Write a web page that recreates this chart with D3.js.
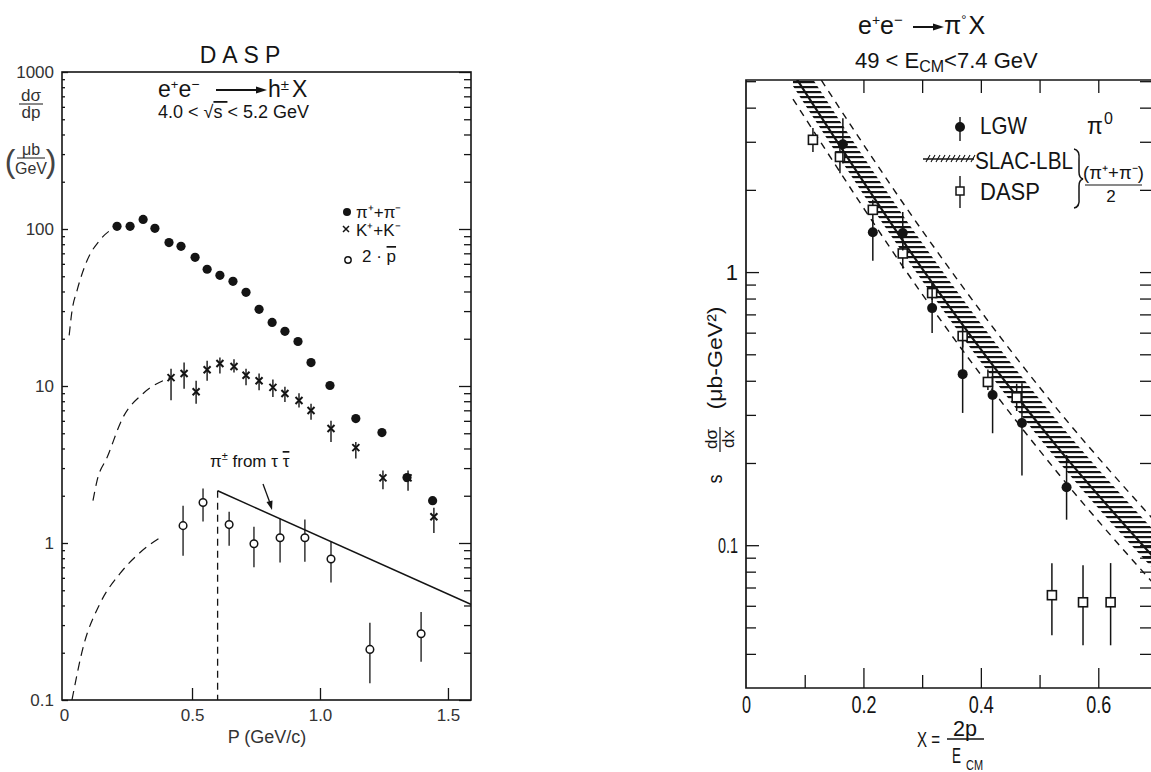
<!DOCTYPE html>
<html><head><meta charset="utf-8">
<script src="https://cdn.jsdelivr.net/npm/d3@7"></script>
<style>body{margin:0;background:#fff}svg{display:block}</style>
</head><body>
<svg id="c" width="1151" height="772"></svg>
<script>
// ---------------- Left panel data (DASP, e+e- -> h± X) ----------------
const pionP = [0.207,0.258,0.309,0.355,0.41,0.457,0.512,0.559,0.609,0.66,0.711,0.762,0.813,0.863,0.914,0.965,1.039,1.14,1.242,1.34,1.44];
const pionV = [104,104,115,101,82,77.6,66,55.4,50.7,46.4,39.5,30.8,25.4,22.3,19.2,14.1,10.07,6.2,5.05,2.61,1.86];

const kaonP  = [0.418,0.469,0.516,0.559,0.609,0.664,0.711,0.762,0.816,0.863,0.918,0.965,1.043,1.14,1.246,1.344,1.445];
const kaonV  = [11.3,12.0,9.2,12.7,13.9,13.3,11.7,10.8,9.8,8.96,8.08,6.98,5.36,4.05,2.6,2.6,1.47];
const kaonLo = [8.1,9.6,7.7,10.8,12.0,12.2,10.1,9.4,8.5,7.9,7.3,6.1,4.4,3.45,2.2,2.15,1.16];
const kaonHi = [12.9,14.1,10.8,14.5,15.2,14.8,12.9,12.0,11.0,9.9,9.0,7.7,6.0,4.4,2.9,2.9,1.68];

const protP  = [0.465,0.543,0.645,0.742,0.844,0.941,1.043,1.195,1.395];
const protV  = [1.29,1.81,1.31,0.99,1.08,1.08,0.79,0.21,0.264];
const protLo = [0.83,1.37,0.96,0.70,0.75,0.76,0.56,0.128,0.175];
const protHi = [1.73,2.22,1.58,1.27,1.43,1.41,1.02,0.31,0.364];

const pionCurveP = [0.02,0.031,0.051,0.09,0.14,0.2];
const pionCurveV = [21,30,40.7,63,85,103];
const kaonCurveP = [0.113,0.129,0.168,0.23,0.309,0.414];
const kaonCurveV = [1.86,2.5,3.5,6.3,8.96,11.3];
const protCurveP = [0.031,0.074,0.14,0.219,0.297,0.387];
const protCurveV = [0.1,0.215,0.41,0.64,0.87,1.11];

const tauP = [0.6,1.6];
const tauV = [2.15,0.40];

const leftXTicks = [0,0.5,1.0,1.5];
const leftYTicks = [0.1,1,10,100,1000];

// ---------------- Right panel data (e+e- -> pi0 X) ----------------
const lgwX  = [0.165,0.216,0.267,0.317,0.369,0.42,0.47,0.546];
const lgwV  = [2.94,1.40,1.39,0.738,0.423,0.355,0.28,0.163];
const lgwLo = [2.5,1.1,1.2,0.598,0.305,0.257,0.18,0.124];
const lgwHi = [3.66,1.55,1.66,0.91,0.63,0.445,0.392,0.214];

const daspX  = [0.114,0.16,0.216,0.267,0.317,0.369,0.412,0.461,0.521,0.574,0.621];
const daspV  = [3.05,2.64,1.69,1.17,0.838,0.583,0.396,0.348,0.0656,0.0618,0.0618];
const daspLo = [2.75,2.3,1.52,1.03,0.79,0.53,0.37,0.31,0.0468,0.043,0.043];
const daspHi = [3.37,2.9,1.84,1.29,0.91,0.63,0.44,0.39,0.0859,0.0845,0.086];

const bandX      = [0.08,0.30,0.53,0.70];
const bandCenter = [5.35,1.03,0.229,0.0875];
const bandLo     = [4.8,0.93,0.205,0.079];
const bandHi     = [6.6,1.28,0.285,0.11];
const dashLo     = [4.3,0.83,0.185,0.070];
const dashHi     = [7.3,1.42,0.315,0.12];

const rightXTicks = [0,0.2,0.4,0.6];
const rightYTicks = [0.1,1];

// ---------------- Drawing ----------------
const INK = "#141414";
const SANS = "'Liberation Sans', Arial, sans-serif";
const NARROW = "'Liberation Sans', Arial, sans-serif";
const svg = d3.select("#c");
const defs = svg.append("defs");

const hatch = defs.append("pattern").attr("id","hatch").attr("patternUnits","userSpaceOnUse")
  .attr("width",8).attr("height",5);
hatch.append("rect").attr("x",0).attr("y",1).attr("width",8).attr("height",2.2).attr("fill",INK);

const xL = d3.scaleLinear().domain([-0.008,1.59]).range([62,471]);
const yL = d3.scaleLog().domain([0.1,1000]).range([700,72]);
const xR = d3.scaleLinear().domain([0,0.7]).range([746,1157]);
const yR = d3.scaleLog().domain([0.03,5.05]).range([688,80]);

defs.append("clipPath").attr("id","clipL").append("rect")
  .attr("x",xL.range()[0]).attr("y",yL.range()[1]).attr("width",xL.range()[1]-xL.range()[0]).attr("height",yL.range()[0]-yL.range()[1]);
defs.append("clipPath").attr("id","clipR").append("rect")
  .attr("x",xR.range()[0]).attr("y",yR.range()[1]).attr("width",xR.range()[1]-xR.range()[0]).attr("height",yR.range()[0]-yR.range()[1]);

function minorLog(lo, hi){
  const out=[];
  for(let e=Math.floor(Math.log10(lo)); e<=Math.ceil(Math.log10(hi)); e++){
    for(let m=2;m<=9;m++){ const v=m*Math.pow(10,e); if(v>lo && v<hi) out.push(v); }
  }
  return out;
}
function styleAxis(g, fontSize, family){
  g.select(".domain").remove();
  g.selectAll(".tick line").attr("stroke",INK).attr("stroke-width",1.3);
  g.selectAll(".tick text").attr("fill",INK).attr("font-size",fontSize).attr("font-family",family);
}
function squeeze(sel, len){ return sel.attr("textLength",len).attr("lengthAdjust","spacingAndGlyphs"); }

// ===== LEFT PANEL =====
const L = svg.append("g");
L.append("g").attr("transform",`translate(${xL.range()[0]},0)`)
  .call(d3.axisLeft(yL).tickValues(leftYTicks).tickSize(-6).tickPadding(8)
    .tickFormat(d=> d===0.1 ? "0.1" : d3.format("d")(d)))
  .call(g=>styleAxis(g,17,SANS))
  .call(g=>g.selectAll(".tick text").attr("font-weight",300).attr("fill","#333"));
L.append("g").attr("transform",`translate(${xL.range()[0]},0)`)
  .call(d3.axisLeft(yL).tickValues(minorLog(0.1,1000)).tickSize(-3).tickFormat(""))
  .call(g=>styleAxis(g,0,SANS));
L.append("g").attr("transform",`translate(${xL.range()[1]},0)`)
  .call(d3.axisRight(yL).tickValues(leftYTicks).tickSize(-12).tickFormat(""))
  .call(g=>styleAxis(g,0,SANS));
L.append("g").attr("transform",`translate(${xL.range()[1]},0)`)
  .call(d3.axisRight(yL).tickValues(minorLog(0.1,1000)).tickSize(-7).tickFormat(""))
  .call(g=>styleAxis(g,0,SANS));
L.append("g").attr("transform",`translate(0,${yL.range()[0]})`)
  .call(d3.axisBottom(xL).tickValues(leftXTicks).tickSize(-12).tickPadding(9)
    .tickFormat(d=> d===0 ? "0" : d3.format(".1f")(d)))
  .call(g=>styleAxis(g,17,SANS))
  .call(g=>g.selectAll(".tick text").attr("fill","#333"))
  .call(g=>g.selectAll(".tick line").filter(d=>d===0).remove());
L.append("rect").attr("x",xL.range()[0]).attr("y",yL.range()[1])
  .attr("width",xL.range()[1]-xL.range()[0]).attr("height",yL.range()[0]-yL.range()[1])
  .attr("fill","none").attr("stroke",INK).attr("stroke-width",1.6);

const LP = L.append("g").attr("clip-path","url(#clipL)");
const lineL = d3.line().x(d=>xL(d[0])).y(d=>yL(d[1])).curve(d3.curveMonotoneX);
[[pionCurveP,pionCurveV],[kaonCurveP,kaonCurveV],[protCurveP,protCurveV]].forEach(([p,v])=>{
  LP.append("path").attr("d",lineL(p.map((x,i)=>[x,v[i]])))
    .attr("fill","none").attr("stroke",INK).attr("stroke-width",1.2).attr("stroke-dasharray","9,6");
});
LP.append("path").attr("d",d3.line().x(d=>xL(d[0])).y(d=>yL(d[1]))(tauP.map((x,i)=>[x,tauV[i]])))
  .attr("fill","none").attr("stroke",INK).attr("stroke-width",1.5);
LP.append("line").attr("x1",xL(tauP[0])).attr("x2",xL(tauP[0]))
  .attr("y1",yL(tauV[0])).attr("y2",yL(0.1))
  .attr("stroke",INK).attr("stroke-width",1.3).attr("stroke-dasharray","7,5");

kaonP.forEach((p,i)=>{
  const cx=xL(p), cy=yL(kaonV[i]);
  LP.append("line").attr("x1",cx).attr("x2",cx).attr("y1",yL(kaonHi[i])).attr("y2",yL(kaonLo[i]))
    .attr("stroke",INK).attr("stroke-width",1.4);
  LP.append("path").attr("d",`M${cx-3.5},${cy-3.5}L${cx+3.5},${cy+3.5}M${cx-3.5},${cy+3.5}L${cx+3.5},${cy-3.5}`)
    .attr("stroke",INK).attr("stroke-width",2);
});
LP.selectAll("circle.pi").data(pionP).enter().append("circle")
  .attr("cx",d=>xL(d)).attr("cy",(d,i)=>yL(pionV[i])).attr("r",4.6).attr("fill",INK);
protP.forEach((p,i)=>{
  const cx=xL(p);
  LP.append("line").attr("x1",cx).attr("x2",cx).attr("y1",yL(protHi[i])).attr("y2",yL(protLo[i]))
    .attr("stroke",INK).attr("stroke-width",1.3);
  LP.append("circle").attr("cx",cx).attr("cy",yL(protV[i])).attr("r",3.8)
    .attr("fill","#fff").attr("stroke",INK).attr("stroke-width",1.5);
});

// titles & labels (left)
L.append("text").attr("x",243).attr("y",63).attr("text-anchor","middle")
  .attr("font-family",SANS).attr("font-size",23).attr("letter-spacing",6).attr("fill",INK).text("DASP");
const t1 = L.append("text").attr("x",158).attr("y",97).attr("font-family",SANS).attr("font-size",23).attr("fill",INK);
t1.append("tspan").text("e");
t1.append("tspan").attr("font-size",13).attr("dy",-8).text("+");
t1.append("tspan").attr("dy",8).text("e");
t1.append("tspan").attr("font-size",14).attr("dy",-8).text("−");
L.append("line").attr("x1",216).attr("x2",258).attr("y1",90).attr("y2",90).attr("stroke",INK).attr("stroke-width",2);
L.append("path").attr("d","M256,86.5L267,90L256,93.5Z").attr("fill",INK);
const t2 = L.append("text").attr("x",268).attr("y",97).attr("font-family",SANS).attr("font-size",23).attr("fill",INK);
t2.append("tspan").text("h");
t2.append("tspan").attr("font-size",15).attr("dy",-7).text("±");
t2.append("tspan").attr("dy",7).attr("dx",3).text("X");
const t3 = L.append("text").attr("x",158).attr("y",118).attr("font-family",SANS).attr("font-size",18).attr("fill",INK);
t3.append("tspan").text("4.0 < ");
t3.append("tspan").text("√");
t3.append("tspan").attr("text-decoration","overline").text("s ");
t3.append("tspan").text(" < 5.2 GeV");

// y label left
L.append("text").attr("x",31).attr("y",101).attr("text-anchor","middle").attr("font-family",SANS).attr("font-size",17).attr("fill","#333").text("dσ");
L.append("line").attr("x1",19).attr("x2",43).attr("y1",104).attr("y2",104).attr("stroke",INK).attr("stroke-width",1);
L.append("text").attr("x",31).attr("y",118).attr("text-anchor","middle").attr("font-family",SANS).attr("font-size",17).attr("fill","#333").text("dp");
L.append("text").attr("x",31).attr("y",155).attr("text-anchor","middle").attr("font-family",SANS).attr("font-size",16).attr("fill","#333").text("μb");
L.append("line").attr("x1",17).attr("x2",45).attr("y1",158).attr("y2",158).attr("stroke",INK).attr("stroke-width",1);
L.append("text").attr("x",31).attr("y",174).attr("text-anchor","middle").attr("font-family",SANS).attr("font-size",16).attr("fill","#333").text("GeV");
L.append("text").attr("x",10).attr("y",172).attr("text-anchor","middle").attr("font-family",SANS).attr("font-size",32).attr("fill","#444").text("(");
L.append("text").attr("x",51).attr("y",172).attr("text-anchor","middle").attr("font-family",SANS).attr("font-size",32).attr("fill","#444").text(")");

L.append("text").attr("x",267).attr("y",743).attr("text-anchor","middle").attr("font-family",SANS).attr("font-size",18).attr("fill","#333").text("P (GeV/c)");

// legend left
L.append("circle").attr("cx",347).attr("cy",212).attr("r",4).attr("fill",INK);
L.append("text").attr("x",356).attr("y",218).attr("font-family",SANS).attr("font-size",17).attr("fill",INK).text("π⁺+π⁻");
L.append("path").attr("d","M343,226L349,232M343,232L349,226").attr("stroke",INK).attr("stroke-width",1.5);
L.append("text").attr("x",356).attr("y",236).attr("font-family",SANS).attr("font-size",17).attr("fill",INK).text("K⁺+K⁻");
L.append("circle").attr("cx",348).attr("cy",260).attr("r",3.2).attr("fill","#fff").attr("stroke",INK).attr("stroke-width",1.4);
const lp = L.append("text").attr("x",362).attr("y",262).attr("font-family",SANS).attr("font-size",17).attr("fill",INK);
lp.append("tspan").text("2 · ");
lp.append("tspan").attr("text-decoration","overline").text("p");

const tl = L.append("text").attr("x",210).attr("y",467).attr("font-family",SANS).attr("font-size",17).attr("fill",INK);
tl.append("tspan").text("π");
tl.append("tspan").attr("font-size",11).attr("dy",-7).text("±");
tl.append("tspan").attr("dy",7).text(" from τ ");
tl.append("tspan").attr("text-decoration","overline").text("τ");
L.append("line").attr("x1",263).attr("x2",270).attr("y1",484).attr("y2",503).attr("stroke",INK).attr("stroke-width",1.3);
L.append("path").attr("d","M266.5,502L272,510L272.5,500.5Z").attr("fill",INK);

// ===== RIGHT PANEL =====
const R = svg.append("g");
R.append("g").attr("transform",`translate(${xR.range()[0]},0)`)
  .call(d3.axisLeft(yR).tickValues(rightYTicks).tickSize(-13).tickPadding(8)
    .tickFormat(d=> d===1 ? "1" : "0.1"))
  .call(g=>styleAxis(g,22,NARROW))
  .call(g=>g.selectAll(".tick text").each(function(d){ if(d!==1) squeeze(d3.select(this),20); }));
R.append("g").attr("transform",`translate(${xR.range()[0]},0)`)
  .call(d3.axisLeft(yR).tickValues(minorLog(0.03,5.05)).tickSize(-10).tickFormat(""))
  .call(g=>styleAxis(g,0,NARROW));
R.append("g").attr("transform",`translate(1151,0)`)
  .call(d3.axisRight(yR).tickValues(rightYTicks.concat(minorLog(0.03,5.05))).tickSize(-11).tickFormat(""))
  .call(g=>styleAxis(g,0,NARROW));
R.append("g").attr("transform",`translate(0,${yR.range()[0]})`)
  .call(d3.axisBottom(xR).tickValues(rightXTicks).tickSize(0).tickPadding(8)
    .tickFormat(d=> d===0 ? "0" : d3.format(".1f")(d)))
  .call(g=>styleAxis(g,24,NARROW))
  .call(g=>g.selectAll(".tick text").each(function(d){ squeeze(d3.select(this), d===0 ? 9 : 25); }));
R.append("g").attr("transform",`translate(0,${yR.range()[0]})`)
  .call(d3.axisBottom(xR).tickValues([0.2,0.4,0.6]).tickSize(-20).tickFormat(""))
  .call(g=>styleAxis(g,0,NARROW));
R.append("g").attr("transform",`translate(0,${yR.range()[0]})`)
  .call(d3.axisBottom(xR).tickValues([0.1,0.3,0.5]).tickSize(-13).tickFormat(""))
  .call(g=>styleAxis(g,0,NARROW));
R.append("g").attr("transform",`translate(0,${yR.range()[1]})`)
  .call(d3.axisTop(xR).tickValues([0.2,0.3,0.4,0.5,0.6]).tickSize(-13).tickFormat(""))
  .call(g=>styleAxis(g,0,NARROW));
R.append("path").attr("d",`M1151,${yR.range()[1]}H${xR.range()[0]}V${yR.range()[0]}H1151`)
  .attr("fill","none").attr("stroke",INK).attr("stroke-width",1.7);

const RP = R.append("g").attr("clip-path","url(#clipR)");
const area = d3.area().x((d,i)=>xR(bandX[i])).y0((d,i)=>yR(bandLo[i])).y1((d,i)=>yR(bandHi[i])).curve(d3.curveMonotoneX);
RP.append("path").attr("d",area(bandX)).attr("fill","url(#hatch)");
const lineR = d3.line().x(d=>xR(d[0])).y(d=>yR(d[1])).curve(d3.curveMonotoneX);
RP.append("path").attr("d",lineR(bandX.map((x,i)=>[x,bandCenter[i]])))
  .attr("fill","none").attr("stroke",INK).attr("stroke-width",2.2);
[dashLo,dashHi].forEach(arr=>{
  RP.append("path").attr("d",lineR(bandX.map((x,i)=>[x,arr[i]])))
    .attr("fill","none").attr("stroke",INK).attr("stroke-width",1.4).attr("stroke-dasharray","7,6");
});
daspX.forEach((x,i)=>{
  const cx=xR(x), cy=yR(daspV[i]);
  RP.append("line").attr("x1",cx).attr("x2",cx).attr("y1",yR(daspHi[i])).attr("y2",yR(daspLo[i]))
    .attr("stroke",INK).attr("stroke-width",1.5);
  RP.append("rect").attr("x",cx-4.5).attr("y",cy-4.5).attr("width",9).attr("height",9)
    .attr("fill","#fff").attr("stroke",INK).attr("stroke-width",1.6);
});
lgwX.forEach((x,i)=>{
  const cx=xR(x);
  RP.append("line").attr("x1",cx).attr("x2",cx).attr("y1",yR(lgwHi[i])).attr("y2",yR(lgwLo[i]))
    .attr("stroke",INK).attr("stroke-width",1.5);
  RP.append("circle").attr("cx",cx).attr("cy",yR(lgwV[i])).attr("r",5).attr("fill",INK);
});

// right titles
const r1 = R.append("text").attr("x",858).attr("y",34).attr("font-family",SANS).attr("font-size",25).attr("fill",INK);
r1.append("tspan").text("e");
r1.append("tspan").attr("font-size",14).attr("dy",-9).text("+");
r1.append("tspan").attr("dy",9).text("e");
r1.append("tspan").attr("font-size",15).attr("dy",-9).text("−");
R.append("line").attr("x1",913).attr("x2",935).attr("y1",27).attr("y2",27).attr("stroke",INK).attr("stroke-width",2);
R.append("path").attr("d","M933,23.5L944,27L933,30.5Z").attr("fill",INK);
const r2 = R.append("text").attr("x",944).attr("y",34).attr("font-family",SANS).attr("font-size",25).attr("fill",INK);
r2.append("tspan").text("π");
r2.append("tspan").attr("font-size",13).attr("dy",-10).text("°");
r2.append("tspan").attr("dy",10).attr("dx",2).text("X");
const r3 = R.append("text").attr("x",855).attr("y",68).attr("font-family",SANS).attr("font-size",22).attr("fill",INK);
r3.append("tspan").text("49 < E");
r3.append("tspan").attr("font-size",16).attr("dy",4).text("CM");
r3.append("tspan").attr("dy",-4).text("<7.4 GeV");

function rotText(x,y,size,str,len){
  const t = R.append("text").attr("transform",`translate(${x},${y}) rotate(-90)`).attr("text-anchor","middle")
    .attr("font-family",NARROW).attr("font-size",size).attr("fill",INK).text(str);
  if(len) squeeze(t,len);
  return t;
}
rotText(722,479,21,"s",9);
rotText(717,439,17,"dσ",20);
R.append("line").attr("x1",720).attr("x2",720).attr("y1",427).attr("y2",452).attr("stroke",INK).attr("stroke-width",1.2);
rotText(734,439,17,"dx",18);
rotText(722,358,21,"(μb-GeV²)",103);

// right x label
squeeze(R.append("text").attr("x",917).attr("y",747).attr("font-family",NARROW).attr("font-size",22).attr("fill",INK).text("X ="),23);
squeeze(R.append("text").attr("x",953).attr("y",736).attr("font-family",NARROW).attr("font-size",22).attr("fill",INK).text("2p"),24);
R.append("line").attr("x1",947).attr("x2",984).attr("y1",739).attr("y2",739).attr("stroke",INK).attr("stroke-width",1.3);
squeeze(R.append("text").attr("x",952).attr("y",763).attr("font-family",NARROW).attr("font-size",22).attr("fill",INK).text("E"),9);
squeeze(R.append("text").attr("x",966).attr("y",770).attr("font-family",NARROW).attr("font-size",15).attr("fill",INK).text("CM"),17);

// right legend
R.append("line").attr("x1",960).attr("x2",960).attr("y1",117).attr("y2",141).attr("stroke",INK).attr("stroke-width",1.4);
R.append("circle").attr("cx",960).attr("cy",127).attr("r",5).attr("fill",INK);
squeeze(R.append("text").attr("x",980).attr("y",134).attr("font-family",NARROW).attr("font-size",24).attr("fill",INK).text("LGW"),47);
R.append("text").attr("x",1087).attr("y",134).attr("font-family",NARROW).attr("font-size",23).attr("fill",INK).text("π");
R.append("text").attr("x",1104).attr("y",124).attr("font-family",NARROW).attr("font-size",16).attr("fill",INK).text("0");
R.append("line").attr("x1",923).attr("x2",974).attr("y1",159).attr("y2",159).attr("stroke",INK).attr("stroke-width",1.3);
R.append("path").attr("d",d3.range(926,972,5).map(x=>`M${x},${162}L${x+4},${155}`).join(""))
  .attr("stroke",INK).attr("stroke-width",1.1);
squeeze(R.append("text").attr("x",975).attr("y",169).attr("font-family",NARROW).attr("font-size",24).attr("fill",INK).text("SLAC-LBL"),98);
R.append("line").attr("x1",960).attr("x2",960).attr("y1",176).attr("y2",208).attr("stroke",INK).attr("stroke-width",1.4);
R.append("rect").attr("x",956).attr("y",187).attr("width",8).attr("height",8).attr("fill","#fff").attr("stroke",INK).attr("stroke-width",1.5);
squeeze(R.append("text").attr("x",980).attr("y",200).attr("font-family",NARROW).attr("font-size",24).attr("fill",INK).text("DASP"),60);
R.append("path").attr("d","M1074,149Q1080,150 1079,160L1079,172Q1079,178 1083,179Q1079,180 1079,186L1079,198Q1080,207 1074,208")
  .attr("fill","none").attr("stroke",INK).attr("stroke-width",1.5);
squeeze(R.append("text").attr("x",1083).attr("y",179).attr("font-family",NARROW).attr("font-size",18).attr("fill",INK).text("(π⁺+π⁻)"),61);
R.append("line").attr("x1",1085).attr("x2",1142).attr("y1",185).attr("y2",185).attr("stroke",INK).attr("stroke-width",1.2);
R.append("text").attr("x",1111).attr("y",202).attr("text-anchor","middle").attr("font-family",NARROW).attr("font-size",17).attr("fill",INK).text("2");
</script>
</body></html>
